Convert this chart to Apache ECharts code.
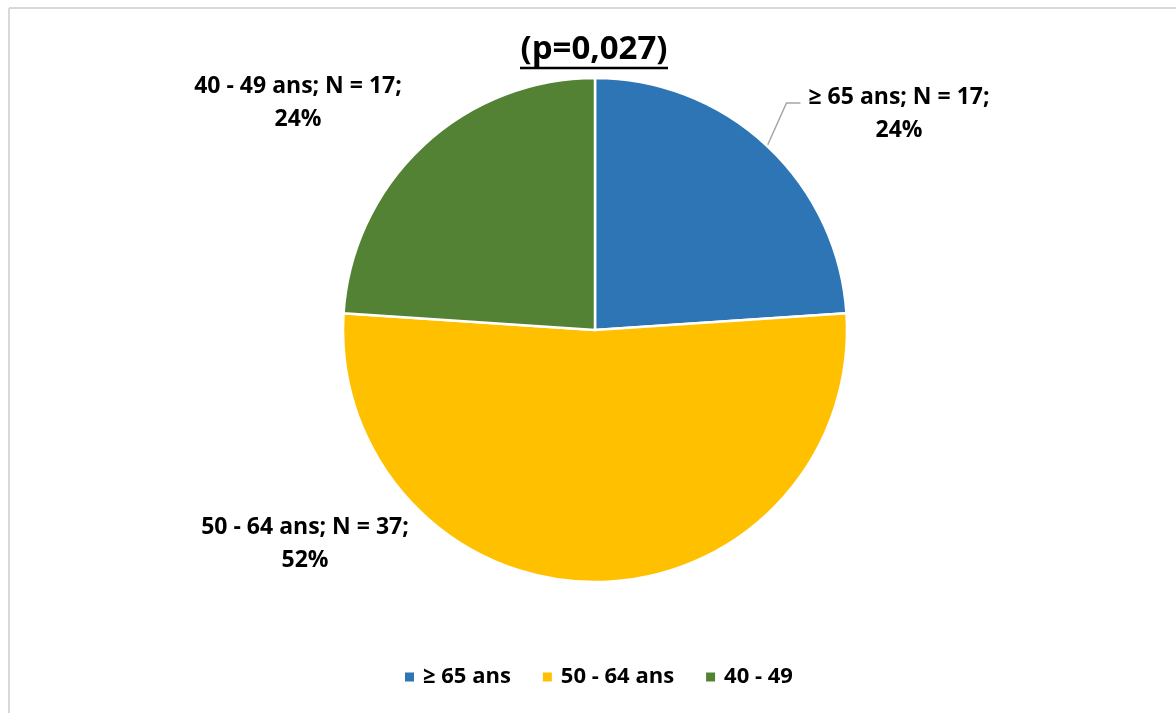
<!DOCTYPE html>
<html>
<head>
<meta charset="utf-8">
<script src="https://cdn.jsdelivr.net/npm/echarts@6/dist/echarts.min.js"></script>
<style>
  html, body { margin: 0; padding: 0; background: #ffffff; }
  #chart { width: 1176px; height: 713px; }
</style>
</head>
<body>
<div id="chart"></div>
<script>
// Age groups (legend names), slice label names, counts and colours
const categories = ['≥ 65 ans', '50 - 64 ans', '40 - 49'];
const labelNames = ['≥ 65 ans', '50 - 64 ans', '40 - 49 ans'];
const counts = [17, 37, 17];
const colors = ['#2E75B6', '#FFC000', '#548235'];
const titleText = '(p=0,027)';

const FONT = '"Open Sans", Lato, sans-serif';

// Where each slice label sits (text centre), in pixels
const labelPos = [
  { x: 899, y: 114 },
  { x: 305, y: 544 },
  { x: 298, y: 103 }
];

const chart = echarts.init(document.getElementById('chart'), null, { renderer: 'canvas' });

const data = categories.map((c, i) => ({
  name: c,
  value: counts[i],
  itemStyle: { color: colors[i] },
  labelLine: { show: i === 0 }
}));

chart.setOption({
  animation: false,
  backgroundColor: '#ffffff',
  legend: {
    bottom: 20,
    left: 600,
    itemWidth: 11,
    itemHeight: 11,
    itemGap: 30,
    icon: 'rect',
    data: categories,
    textStyle: { fontFamily: FONT, fontWeight: 'bold', fontSize: 22, color: '#000', padding: [0, 0, 0, 3] }
  },
  graphic: [
    // outer frame (top and left edges)
    { type: 'line', shape: { x1: 9, y1: 8, x2: 1176, y2: 8 }, style: { stroke: '#d9d9d9', lineWidth: 2 } },
    { type: 'line', shape: { x1: 9, y1: 8, x2: 9, y2: 713 }, style: { stroke: '#d9d9d9', lineWidth: 2 } },
    // title with underline
    {
      type: 'text',
      style: {
        x: 594, y: 66, text: titleText, textAlign: 'center', textVerticalAlign: 'bottom',
        fontFamily: FONT, fontWeight: 'bold', fontSize: 33, fill: '#000'
      }
    },
    { type: 'line', shape: { x1: 520, y1: 68, x2: 668, y2: 68 }, style: { stroke: '#000', lineWidth: 2.5 } }
  ],
  series: [{
    type: 'pie',
    center: [595, 330],
    radius: 252,
    startAngle: 90,
    clockwise: true,
    percentPrecision: 0,
    itemStyle: { borderColor: '#ffffff', borderWidth: 2.5 },
    label: {
      show: true,
      position: 'outside',
      fontFamily: FONT,
      fontWeight: 'bold',
      fontSize: 23,
      lineHeight: 33,
      color: '#000',
      align: 'center',
      formatter: p => labelNames[p.dataIndex] + '; N = ' + p.value + ';\n' + Math.round(p.percent) + '%'
    },
    labelLine: {
      show: true,
      length: 30,
      length2: 14,
      lineStyle: { color: '#a6a6a6', width: 1.5 }
    },
    labelLayout: params => {
      const p = labelPos[params.dataIndex];
      const out = { x: p.x, y: p.y, align: 'center', verticalAlign: 'middle' };
      if (params.labelLinePoints) {
        // elbow connector: from slice edge up to the label's left side
        const start = params.labelLinePoints[0];
        const left = p.x - params.labelRect.width / 2 - 8;
        const yy = p.y - 11;
        out.labelLinePoints = [start, [left - 14, yy], [left, yy]];
      }
      return out;
    },
    emphasis: { disabled: true },
    data: data
  }]
});
// centre the legend block horizontally on the chart
const legendView = chart.getViewOfComponentModel(chart.getModel().getComponent('legend'));
const w = legendView.group.getBoundingRect().width;
chart.setOption({ legend: { left: Math.round(598 - w / 2) } });
</script>
</body>
</html>
